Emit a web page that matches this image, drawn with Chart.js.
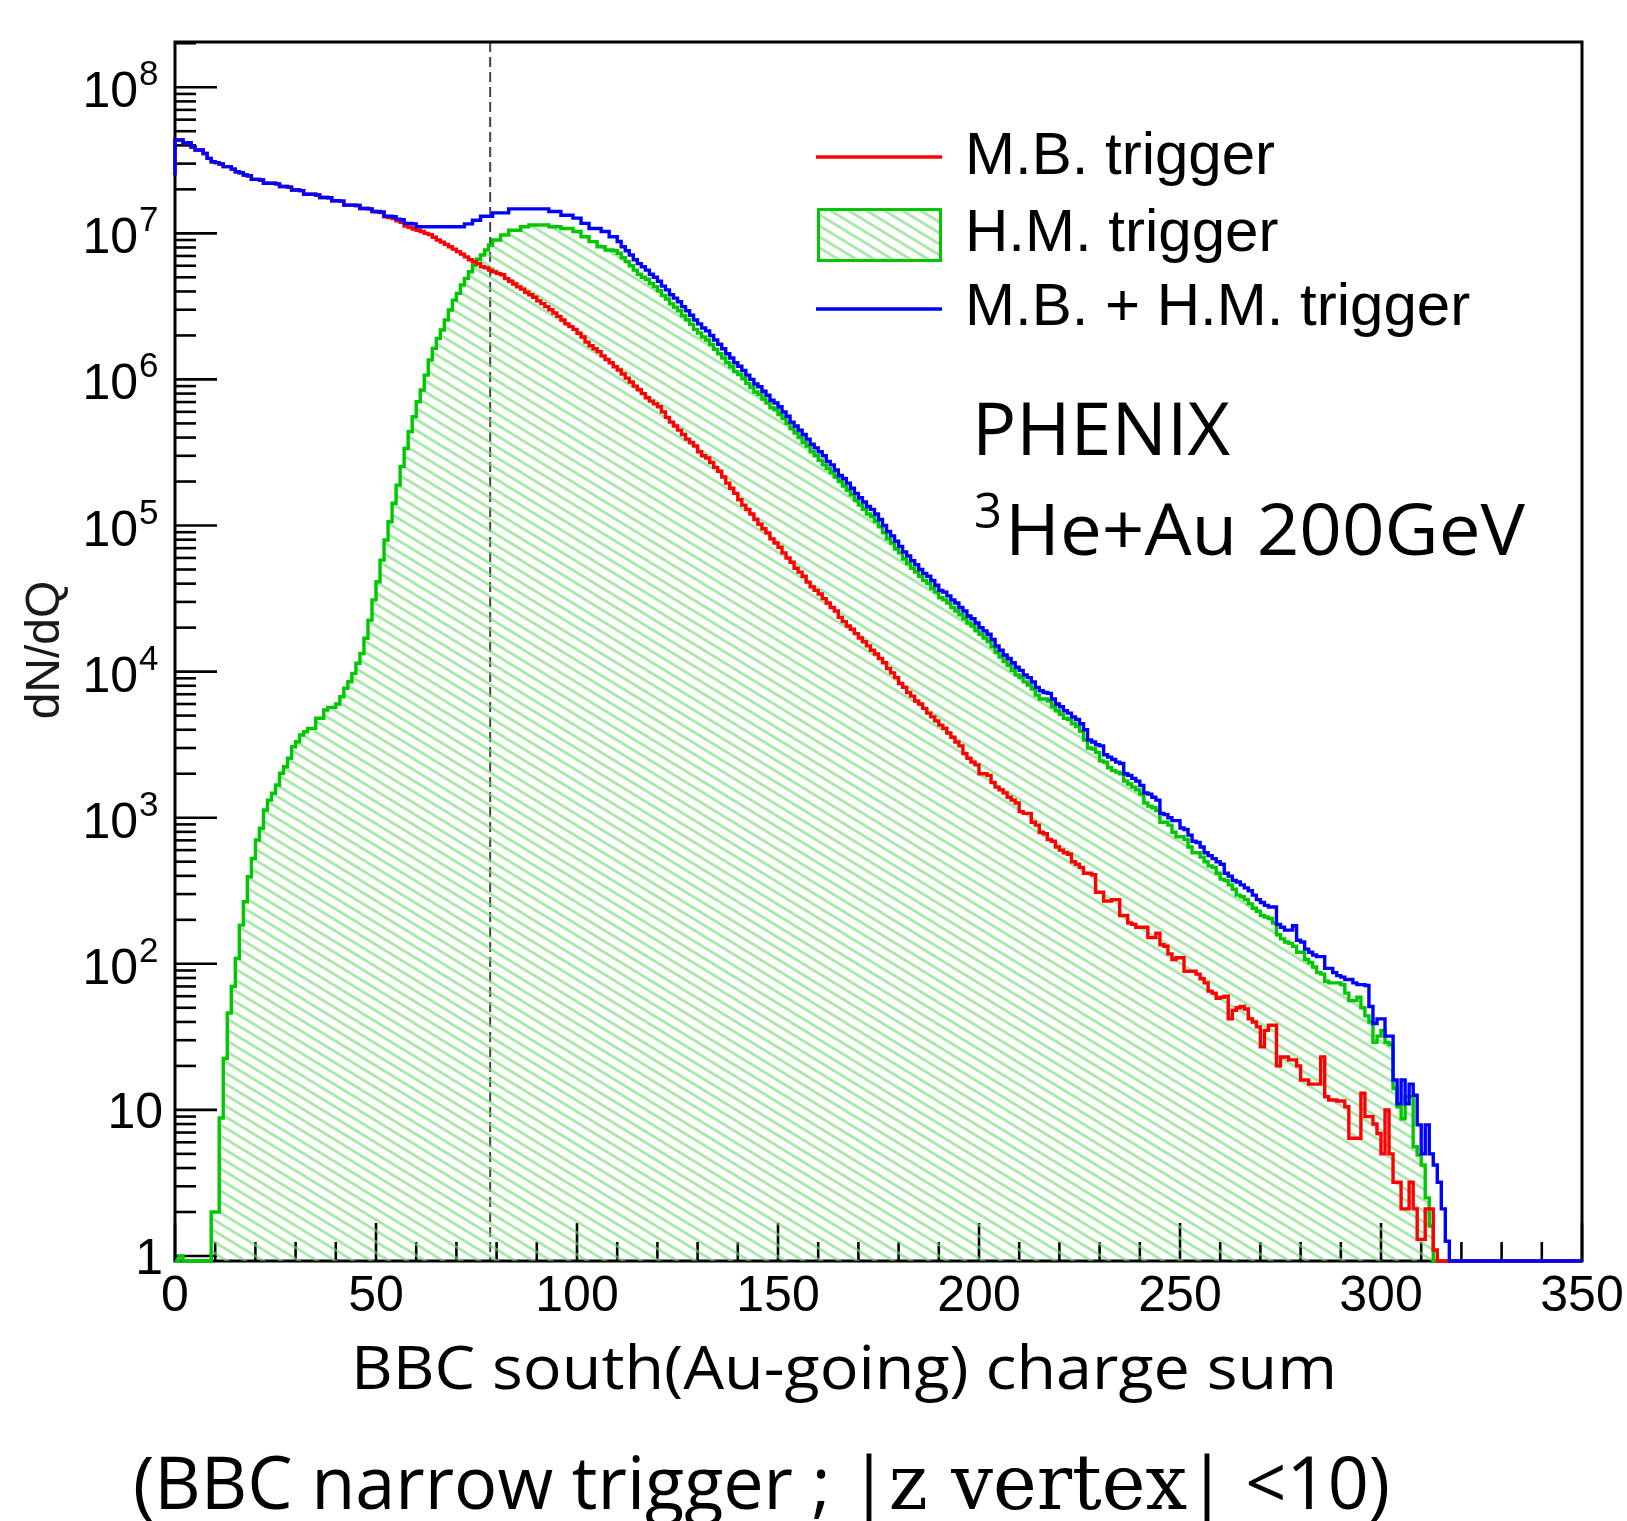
<!DOCTYPE html>
<html><head><meta charset="utf-8">
<script src="https://cdn.jsdelivr.net/npm/chart.js"></script>
<style>
html,body{margin:0;padding:0;background:#fff;}
canvas{display:block;}
</style></head><body>
<canvas id="c" width="1627" height="1521"></canvas>
<script>
// ---------------- data (1-unit bins starting at 0) ----------------
const binWidth = 1;

const mbTrigger = [
2.5e7,4.35e7,4.35e7,4.17e7,4.17e7,3.9e7,3.72e7,3.72e7,3.52e7,3.26e7,
3.09e7,3.05e7,2.98e7,2.86e7,2.86e7,2.75e7,2.64e7,2.6e7,2.51e7,2.48e7,
2.34e7,2.34e7,2.32e7,2.2e7,2.2e7,2.2e7,2.18e7,2.09e7,2.09e7,2.07e7,
1.98e7,1.98e7,1.96e7,1.85e7,1.85e7,1.85e7,1.83e7,1.76e7,1.76e7,1.75e7,
1.67e7,1.67e7,1.66e7,1.56e7,1.56e7,1.56e7,1.55e7,1.48e7,1.48e7,1.47e7,
1.41e7,1.4e7,1.39e7,1.3e7,1.28e7,1.26e7,1.22e7,1.19e7,1.12e7,1.1e7,
1.07e7,1.05e7,1.03e7,1.0e7,9.8e6,9.4e6,9.0e6,8.7e6,8.4e6,8.1e6,
7.8e6,7.5e6,7.2e6,6.9e6,6.6e6,6.4e6,6.2e6,5.9e6,5.8e6,5.6e6,
5.45e6,5.3e6,5.2e6,4.9e6,4.7e6,4.5e6,4.3e6,4.15e6,3.95e6,3.8e6,
3.65e6,3.45e6,3.3e6,3.15e6,3.0e6,2.85e6,2.7e6,2.55e6,2.4e6,2.3e6,
2.2e6,2.07e6,1.95e6,1.8e6,1.7e6,1.62e6,1.55e6,1.45e6,1.37e6,1.3e6,
1.22e6,1.16e6,1.09e6,1.02e6,9.6e5,9.0e5,8.5e5,8.0e5,7.5e5,7.1e5,
6.8e5,6.5e5,6.0e5,5.5e5,5.1e5,4.8e5,4.5e5,4.2e5,3.9e5,3.7e5,
3.5e5,3.2e5,3.0e5,2.9e5,2.7e5,2.5e5,2.35e5,2.15e5,1.95e5,1.8e5,
1.66e5,1.5e5,1.38e5,1.29e5,1.2e5,1.1e5,1.02e5,9.5e4,8.9e4,8.1e4,
7.6e4,7.1e4,6.5e4,6.0e4,5.6e4,5.1e4,4.8e4,4.5e4,4.1e4,3.8e4,
3.6e4,3.4e4,3.16e4,2.95e4,2.75e4,2.6e4,2.35e4,2.2e4,2.05e4,1.95e4,
1.82e4,1.7e4,1.6e4,1.5e4,1.4e4,1.32e4,1.23e4,1.15e4,1.05e4,9.8e3,
9.1e3,8.3e3,7.8e3,7.2e3,6.8e3,6.3e3,6.0e3,5.6e3,5.2e3,4.9e3,
4.6e3,4.3e3,4.1e3,3.8e3,3.55e3,3.3e3,3.1e3,2.75e3,2.55e3,2.4e3,
2.3e3,2.0e3,2.0e3,1.95e3,1.74e3,1.62e3,1.55e3,1.48e3,1.38e3,1.32e3,
1.26e3,1.1e3,1.07e3,1.07e3,930,890,795,776,710,690,
630,600,575,562,500,480,457,417,417,407,
309,309,269,269,275,275,214,214,190,186,
178,178,178,151,151,162,135,132,117,107,
110,110,89,89,89,85,79,74,65,63,
58,59,60,42,48,50,51,49,42,40,
37,27,35,38,38,20,23,23,22,22,
20,16,16,15,15,15,23,12.3,11.7,11.7,
11.5,11.5,10.5,6.4,6.4,6.4,13,9,9,8,
6.9,5,10,5,3.2,3.2,2.1,2.1,3.2,2.1,
1.3,1.3,2.1,2.1,1.1,0,0,0,0,0,
0,0,0,0,0,0,0,0,0,0,
0,0,0,0,0,0,0,0,0,0,
0,0,0,0,0,0,0,0,0,0
];

const hmTrigger = [
0,0,1,0,0,0,0,0,0,0,
2,2,8.8,22.5,46,70,109,184,266,394,
527,704,846,1130,1320,1470,1675,2015,2235,2550,
3060,3310,3680,3880,4090,4090,4790,4790,5460,5690,
5690,6000,6730,7690,8530,9730,11400,13300,16900,22500,
31000,41200,58000,79600,106000,142000,189000,253000,337000,438000,
556000,704000,846000,1.07e6,1.36e6,1.63e6,1.91e6,2.18e6,2.55e6,2.99e6,
3.49e6,3.88e6,4.43e6,4.92e6,5.46e6,6.07e6,6.64e6,7.1e6,7.69e6,8.32e6,
9.0e6,9.0e6,9.73e6,9.73e6,1.05e7,1.05e7,1.05e7,1.11e7,1.11e7,1.14e7,
1.14e7,1.14e7,1.14e7,1.14e7,1.11e7,1.11e7,1.11e7,1.08e7,1.08e7,1.08e7,
1.03e7,1.03e7,9.48e6,9.48e6,8.77e6,8.77e6,8.1e6,8.1e6,7.69e6,7.69e6,
7.6e6,7.3e6,6.8e6,6.4e6,6.0e6,5.6e6,5.25e6,5.0e6,4.85e6,4.54e6,
4.32e6,4.05e6,3.75e6,3.55e6,3.29e6,3.12e6,2.95e6,2.73e6,2.56e6,2.38e6,
2.2e6,2.08e6,1.95e6,1.86e6,1.73e6,1.61e6,1.5e6,1.4e6,1.3e6,1.22e6,
1.13e6,1.08e6,1.01e6,9.4e5,8.8e5,8.2e5,7.9e5,7.35e5,6.9e5,6.4e5,
6.2e5,5.75e5,5.4e5,5.0e5,4.6e5,4.3e5,4.0e5,3.7e5,3.5e5,3.2e5,
3.0e5,2.8e5,2.6e5,2.45e5,2.3e5,2.15e5,2.0e5,1.86e5,1.74e5,1.62e5,
1.48e5,1.38e5,1.29e5,1.2e5,1.15e5,1.07e5,9.8e4,8.9e4,8.1e4,7.6e4,
6.9e4,6.5e4,5.9e4,5.5e4,5.1e4,4.8e4,4.5e4,4.2e4,4.0e4,3.7e4,
3.5e4,3.2e4,3.1e4,2.95e4,2.75e4,2.6e4,2.45e4,2.3e4,2.15e4,2.05e4,
1.9e4,1.8e4,1.7e4,1.6e4,1.48e4,1.35e4,1.26e4,1.17e4,1.1e4,1.02e4,
9.5e3,9.1e3,8.5e3,8.1e3,7.6e3,6.9e3,6.5e3,6.5e3,6.3e3,5.75e3,
5.4e3,5.1e3,4.8e3,4.7e3,4.4e3,4.2e3,3.9e3,3.4e3,3.0e3,2.95e3,
2.8e3,2.45e3,2.4e3,2.2e3,2.1e3,2.05e3,2.0e3,1.78e3,1.7e3,1.62e3,
1.55e3,1.45e3,1.26e3,1.2e3,1.17e3,1.12e3,930,930,890,795,
740,740,710,630,575,575,537,500,468,457,
417,380,372,347,324,295,288,275,257,240,
229,214,209,204,190,158,148,141,138,132,
120,120,107,102,95,87,85,76,74,74,
74,72,63,56,56,59,50,44,40,29,
32,35,29,28,14,10.5,8.7,12.3,12.3,5.6,
4.9,4.2,2.5,1.6,0,0,0,0,0,0,
0,0,0,0,0,0,0,0,0,0,
0,0,0,0,0,0,0,0,0,0,
0,0,0,0,0,0,0,0,0,0
];

const mbHmTrigger = [
2.5e7,4.35e7,4.35e7,4.17e7,4.17e7,3.9e7,3.72e7,3.72e7,3.52e7,3.26e7,
3.09e7,3.05e7,2.98e7,2.86e7,2.86e7,2.75e7,2.64e7,2.6e7,2.51e7,2.48e7,
2.34e7,2.34e7,2.32e7,2.2e7,2.2e7,2.2e7,2.18e7,2.09e7,2.09e7,2.07e7,
1.98e7,1.98e7,1.96e7,1.85e7,1.85e7,1.85e7,1.83e7,1.76e7,1.76e7,1.75e7,
1.67e7,1.67e7,1.66e7,1.56e7,1.56e7,1.56e7,1.55e7,1.48e7,1.48e7,1.47e7,
1.41e7,1.41e7,1.4e7,1.31e7,1.31e7,1.3e7,1.25e7,1.24e7,1.17e7,1.17e7,
1.16e7,1.11e7,1.11e7,1.11e7,1.11e7,1.11e7,1.11e7,1.11e7,1.11e7,1.11e7,
1.11e7,1.11e7,1.11e7,1.16e7,1.16e7,1.23e7,1.23e7,1.31e7,1.31e7,1.31e7,
1.38e7,1.38e7,1.38e7,1.38e7,1.47e7,1.47e7,1.47e7,1.47e7,1.47e7,1.47e7,
1.47e7,1.47e7,1.47e7,1.47e7,1.41e7,1.41e7,1.41e7,1.33e7,1.33e7,1.33e7,
1.27e7,1.27e7,1.17e7,1.17e7,1.08e7,1.08e7,1.08e7,1.03e7,1.03e7,9.48e6,
9.48e6,8.8e6,8.1e6,7.6e6,7.1e6,6.6e6,6.2e6,5.9e6,5.6e6,5.25e6,
5.0e6,4.7e6,4.35e6,4.1e6,3.8e6,3.6e6,3.4e6,3.15e6,2.95e6,2.75e6,
2.55e6,2.4e6,2.25e6,2.15e6,2.0e6,1.86e6,1.74e6,1.62e6,1.5e6,1.4e6,
1.3e6,1.23e6,1.15e6,1.07e6,1.0e6,9.3e5,8.9e5,8.3e5,7.8e5,7.2e5,
6.9e5,6.5e5,6.0e5,5.6e5,5.1e5,4.8e5,4.5e5,4.2e5,3.9e5,3.6e5,
3.4e5,3.2e5,3.0e5,2.75e5,2.6e5,2.4e5,2.2e5,2.1e5,1.95e5,1.8e5,
1.66e5,1.55e5,1.45e5,1.35e5,1.29e5,1.2e5,1.1e5,1.0e5,9.1e4,8.5e4,
7.8e4,7.2e4,6.6e4,6.2e4,5.75e4,5.4e4,5.0e4,4.7e4,4.5e4,4.2e4,
3.9e4,3.6e4,3.5e4,3.3e4,3.1e4,2.95e4,2.75e4,2.6e4,2.4e4,2.3e4,
2.15e4,2.0e4,1.9e4,1.8e4,1.66e4,1.5e4,1.4e4,1.3e4,1.23e4,1.15e4,
1.07e4,1.02e4,9.5e3,9.1e3,8.5e3,7.8e3,7.4e3,7.2e3,7.1e3,6.5e3,
6.0e3,5.75e3,5.4e3,5.2e3,4.9e3,4.7e3,4.4e3,4.0e3,3.4e3,3.3e3,
3.16e3,3.1e3,2.7e3,2.6e3,2.5e3,2.4e3,2.35e3,2.0e3,1.95e3,1.86e3,
1.78e3,1.66e3,1.48e3,1.45e3,1.38e3,1.32e3,1.07e3,1.05e3,1.0e3,955,
955,850,830,760,690,676,630,575,550,525,
500,480,417,398,372,363,347,331,316,295,
275,263,251,245,245,186,178,170,170,182,
145,141,126,120,115,112,112,93,93,87,
83,81,78,78,74,72,72,71,51,39,
42,42,32,32,16,11,16,11,15,12.6,
7.9,5.0,7.9,5.0,4.2,3.2,2.1,1.26,0,0,
0,0,0,0,0,0,0,0,0,0,
0,0,0,0,0,0,0,0,0,0,
0,0,0,0,0,0,0,0,0,0
];

const xTickValues = [0, 50, 100, 150, 200, 250, 300, 350];
const xTickLabels = ['0', '50', '100', '150', '200', '250', '300', '350'];
const yTickValues = [1, 10, 1e2, 1e3, 1e4, 1e5, 1e6, 1e7, 1e8];
const yTickBase   = ['1', '10', '10', '10', '10', '10', '10', '10', '10'];
const yTickExp    = ['', '', '2', '3', '4', '5', '6', '7', '8'];
const legendLabels = ['M.B. trigger', 'H.M. trigger', 'M.B. + H.M. trigger'];
const cutValue = 78.4;

// ---------------- chart ----------------
const X_MIN = 0, X_MAX = 350;
const Y_MIN = 0.924, Y_MAX = 2.04e8;
const RED = '#ff0000', GREEN = '#00c800', BLUE = '#0000ff';
const LINE_W = 3.4;

const canvas = document.getElementById('c');
const ctx = canvas.getContext('2d');

function makeHatch() {
  const W = 18, H = 11;
  const c = document.createElement('canvas');
  c.width = W; c.height = H;
  const g = c.getContext('2d');
  g.strokeStyle = 'rgba(115,218,115,0.62)';
  g.lineWidth = 2.8;
  const offs = [[-W,-H],[0,0],[W,H],[-W,0],[W,0],[0,-H],[0,H],[W,-H],[-W,H]];
  offs.forEach(([dx, dy]) => {
    g.beginPath(); g.moveTo(dx, dy); g.lineTo(dx + W, dy + H); g.stroke();
  });
  return ctx.createPattern(c, 'repeat');
}
const hatch = makeHatch();

function histPoints(values) {
  const pts = values.map((v, i) => ({ x: i * binWidth, y: v > 0 ? v : Y_MIN }));
  pts.push({ x: values.length * binWidth, y: pts[pts.length - 1].y });
  return pts;
}

const SANS = '"Liberation Sans", Arial, sans-serif';
const HUM = '"Open Sans", "Noto Sans", sans-serif';

function drawSegments(c, segs, x, y, targetW) {
  let total = 0;
  segs.forEach(s => { c.font = s.font; s.w = c.measureText(s.text).width; total += s.w; });
  const k = targetW ? targetW / total : 1;
  c.save();
  c.translate(x, y);
  c.scale(k, 1);
  c.textAlign = 'left';
  c.textBaseline = 'alphabetic';
  let cx = 0;
  segs.forEach(s => { c.font = s.font; c.fillText(s.text, cx, 0); cx += s.w; });
  c.restore();
}

const rootAxes = {
  id: 'rootAxes',
  beforeDatasetsDraw(chart) {
    const { ctx: c, chartArea: a, scales: { x, y } } = chart;
    c.save();
    // cut line
    const xc = x.getPixelForValue(cutValue);
    c.strokeStyle = '#444';
    c.lineWidth = 2;
    c.setLineDash([10, 5]);
    c.beginPath(); c.moveTo(xc, a.top); c.lineTo(xc, a.bottom); c.stroke();
    c.setLineDash([]);
    // ticks
    c.strokeStyle = '#000';
    c.lineWidth = 2.6;
    for (let v = X_MIN; v <= X_MAX; v += 10) {
      const px = x.getPixelForValue(v);
      const len = (v % 50 === 0) ? 38 : 19;
      c.beginPath(); c.moveTo(px, a.bottom); c.lineTo(px, a.bottom - len); c.stroke();
    }
    for (let k = 0; k <= 8; k++) {
      for (let m = 1; m <= 9; m++) {
        const v = m * Math.pow(10, k);
        if (v < Y_MIN || v > Y_MAX) continue;
        const py = y.getPixelForValue(v);
        const len = (m === 1) ? 42 : 21;
        c.beginPath(); c.moveTo(a.left, py); c.lineTo(a.left + len, py); c.stroke();
      }
    }
    // frame
    c.lineWidth = 3;
    c.strokeRect(a.left, a.top, a.right - a.left, a.bottom - a.top);
    c.restore();
  },
  afterDraw(chart) {
    const { ctx: c, scales: { x, y } } = chart;
    c.save();
    c.fillStyle = '#000';
    // x tick labels
    c.font = '50px ' + SANS;
    c.textAlign = 'center';
    c.textBaseline = 'alphabetic';
    xTickValues.forEach((v, i) => c.fillText(xTickLabels[i], x.getPixelForValue(v), 1311));
    // y tick labels
    yTickValues.forEach((v, i) => {
      const py = y.getPixelForValue(v);
      if (yTickExp[i] === '') {
        c.font = '50px ' + SANS; c.textAlign = 'right';
        c.fillText(yTickBase[i], 163, py + 18);
      } else {
        c.font = '50px ' + SANS; c.textAlign = 'right';
        c.fillText(yTickBase[i], 138, py + 20);
        c.font = '35px ' + SANS; c.textAlign = 'left';
        c.fillText(yTickExp[i], 139, py - 2);
      }
    });
    // y title
    c.save();
    c.translate(46, 650);
    c.rotate(-Math.PI / 2);
    c.font = '48px ' + SANS;
    c.fillStyle = '#1a1a1a';
    c.textAlign = 'center';
    c.textBaseline = 'middle';
    c.fillText('dN/dQ', 0, 0);
    c.restore();
    // legend
    c.lineWidth = LINE_W;
    c.strokeStyle = RED;
    c.beginPath(); c.moveTo(816, 157); c.lineTo(942, 157); c.stroke();
    c.fillStyle = hatch;
    c.fillRect(818, 209, 122, 51);
    c.strokeStyle = GREEN; c.lineWidth = 3;
    c.strokeRect(818.5, 209.5, 122, 51);
    c.strokeStyle = BLUE; c.lineWidth = LINE_W;
    c.beginPath(); c.moveTo(816, 309); c.lineTo(942, 309); c.stroke();
    c.fillStyle = '#000';
    c.font = '60px ' + SANS;
    c.textAlign = 'left';
    c.textBaseline = 'alphabetic';
    c.fillText(legendLabels[0], 965, 174);
    c.fillText(legendLabels[1], 965, 251);
    c.fillText(legendLabels[2], 965, 325);
    // annotation
    drawSegments(c, [{ text: 'PHENIX', font: '74px ' + HUM }], 972, 455, 258);
    drawSegments(c, [{ text: '3', font: '49px ' + HUM }], 974, 528, 0);
    drawSegments(c, [{ text: 'He+Au 200GeV', font: '72px ' + HUM }], 1005, 555, 520);
    // x title
    drawSegments(c, [{ text: 'BBC south(Au-going) charge sum', font: '60px ' + HUM }], 351, 1389, 986);
    // bottom note
    drawSegments(c, [
      { text: '(BBC narrow trigger ; |', font: '74px ' + HUM },
      { text: 'z vertex', font: '76px "DejaVu Serif", "Liberation Serif", serif' },
      { text: '| <10)', font: '74px ' + HUM }
    ], 133, 1509, 1257);
    c.restore();
  }
};

new Chart(ctx, {
  type: 'line',
  data: {
    datasets: [
      { label: legendLabels[2], data: histPoints(mbHmTrigger), borderColor: BLUE, borderWidth: LINE_W,
        stepped: 'after', pointRadius: 0, fill: false, order: 0, clip: 4,
        borderJoinStyle: 'miter', borderCapStyle: 'butt' },
      { label: legendLabels[0], data: histPoints(mbTrigger), borderColor: RED, borderWidth: LINE_W,
        stepped: 'after', pointRadius: 0, fill: false, order: 1, clip: 4,
        borderJoinStyle: 'miter', borderCapStyle: 'butt' },
      { label: legendLabels[1], data: histPoints(hmTrigger), borderColor: GREEN, backgroundColor: hatch,
        borderWidth: LINE_W, stepped: 'after', pointRadius: 0, fill: 'start', order: 2, clip: 4,
        borderJoinStyle: 'miter', borderCapStyle: 'butt' }
    ]
  },
  options: {
    responsive: false,
    animation: false,
    devicePixelRatio: 1,
    layout: { padding: { left: 175, top: 42, right: 45, bottom: 260 } },
    plugins: { legend: { display: false }, tooltip: { enabled: false }, title: { display: false } },
    scales: {
      x: { type: 'linear', min: X_MIN, max: X_MAX,
           ticks: { display: false }, grid: { display: false, drawTicks: false }, border: { display: false } },
      y: { type: 'logarithmic', min: Y_MIN, max: Y_MAX,
           ticks: { display: false }, grid: { display: false, drawTicks: false }, border: { display: false } }
    }
  },
  plugins: [rootAxes]
});
</script>
</body></html>
